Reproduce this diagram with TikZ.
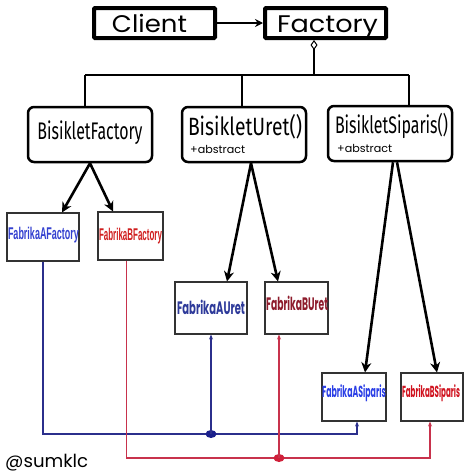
\documentclass[tikz,border=0pt]{standalone}
\usepackage{fontspec}
\usepackage{graphicx}
\setmainfont{Poppins}
\newfontfamily\fira{Fira Sans}
\newfontfamily\libsans{Liberation Sans}
\usetikzlibrary{arrows.meta,shapes.geometric}
\definecolor{tA}{HTML}{3340D0}
\definecolor{tB}{HTML}{D01E1E}
\definecolor{uA}{HTML}{2E3A9A}
\definecolor{uB}{HTML}{8E1C2C}
\definecolor{sA}{HTML}{2B3FE6}
\definecolor{sB}{HTML}{D0121E}
\definecolor{lblue}{HTML}{2B2F8C}
\definecolor{lred}{HTML}{C8324C}
\definecolor{dotblue}{HTML}{1A1F8C}
\definecolor{dotred}{HTML}{D0203A}
\newcommand\fw[2]{\resizebox{#1}{\height}{#2}}
\begin{document}
\begin{tikzpicture}[x=1pt,y=-1pt,
  hbox/.style={draw, line width=4pt, rounded corners=1pt, inner sep=0pt},
  rbox/.style={draw, line width=2.5pt, rounded corners=6pt, inner sep=0pt},
  fbox/.style={draw=black!80, line width=1.1pt, inner sep=0pt},
  txt/.style={anchor=base, inner sep=0pt},
  tline/.style={line width=1.5pt},
  harrow/.style={line width=2.6pt, -{Stealth[length=10pt,width=10pt]}},
  bline/.style={draw=lblue, line width=1.2pt},
  rline/.style={draw=lred, line width=1.2pt},
  ctip/.style={-{Stealth[length=5pt,width=4pt]}},
  dot/.style={ellipse, inner sep=0pt, minimum width=11pt, minimum height=8pt}
]
\useasboundingbox[fill=white] (0,0) rectangle (474,474);

% top boxes
\node[hbox, minimum width=121pt, minimum height=30pt] (client) at (154.5,23) {};
\node[txt] (clientT) at (149.5,32) {\fontsize{24}{24}\selectfont\fw{75pt}{Client}};
\node[hbox, minimum width=121pt, minimum height=30pt] (factory) at (325.5,23) {};
\node[txt] (factoryT) at (327.5,32) {\fontsize{24}{24}\selectfont\fw{101pt}{Factory}};
\draw[line width=2pt, -{Stealth[length=8pt,width=8pt]}] (client.east) -- (factory.west);

% second level boxes
\node[rbox, minimum width=124pt, minimum height=55pt] (bf) at (90,134.5) {};
\node[txt] (bfT) at (90,139) {\fira\fontsize{24}{24}\selectfont\fw{105pt}{BisikletFactory}};
\node[rbox, minimum width=124pt, minimum height=55pt] (bu) at (244,134.5) {};
\node[txt] (buT) at (245,135) {\fira\fontsize{25}{25}\selectfont\fw{114pt}{BisikletUret()}};
\node[txt, anchor=base west] (buA) at (190,153) {\fontsize{11}{11}\selectfont\fw{55pt}{+abstract}};
\node[rbox, minimum width=124pt, minimum height=55pt] (bs) at (390,133.5) {};
\node[txt] (bsT) at (391.5,133) {\fira\fontsize{24}{24}\selectfont\fw{113pt}{BisikletSiparis()}};
\node[txt, anchor=base west] (bsA) at (337,152) {\fontsize{11}{11}\selectfont\fw{55pt}{+abstract}};

% tree connectors
\coordinate (dj) at (314,75);
\coordinate (t1) at (85,75);
\coordinate (t2) at (242,75);
\coordinate (t3) at (409,75);
\draw[tline, {Diamond[open,length=10pt,width=7pt,line width=1pt]}-] (factory.south -| dj) -- (dj);
\draw[tline] (t1) -- (t3);
\draw[tline] (t1) -- (t1 |- bf.north);
\draw[tline] (t2) -- (t2 |- bu.north);
\draw[tline] (t3) -- (t3 |- bs.north);

% fabrika boxes
\node[fbox, minimum width=72pt, minimum height=48pt] (faf) at (43,237) {};
\node[txt, text=tA] (fafT) at (43.5,239) {\libsans\bfseries\fontsize{17}{17}\selectfont\fw{71pt}{FabrikaAFactory}};
\node[fbox, minimum width=65pt, minimum height=48pt] (fbf) at (130.5,236) {};
\node[txt, text=tB] (fbfT) at (130.5,240) {\libsans\bfseries\fontsize{17}{17}\selectfont\fw{63pt}{FabrikaBFactory}};
\node[fbox, minimum width=72pt, minimum height=52pt] (fau) at (211,308) {};
\node[txt, text=uA] (fauT) at (211,314) {\bfseries\fontsize{18}{18}\selectfont\fw{68pt}{FabrikaAUret}};
\node[fbox, minimum width=63pt, minimum height=52pt] (fbu) at (296.5,308) {};
\node[txt, text=uB] (fbuT) at (297,310) {\bfseries\fontsize{18}{18}\selectfont\fw{62pt}{FabrikaBUret}};
\node[fbox, minimum width=64pt, minimum height=48pt] (fas) at (354,397) {};
\node[txt, text=sA] (fasT) at (354,397) {\bfseries\fontsize{16}{16}\selectfont\fw{64pt}{FabrikaASiparis}};
\node[fbox, minimum width=62pt, minimum height=48pt] (fbs) at (432,397) {};
\node[txt, text=sB] (fbsT) at (431,397) {\bfseries\fontsize{16}{16}\selectfont\fw{58pt}{FabrikaBSiparis}};

% hierarchy arrows
\draw[harrow] (bf.south) -- ([xshift=19pt]faf.north);
\draw[harrow] (bf.south) -- ([xshift=-17.5pt]fbf.north);
\draw[harrow] ([xshift=7pt]bu.south) -- ([xshift=16pt]fau.north);
\draw[harrow] ([xshift=7pt]bu.south) -- ([xshift=-18.5pt]fbu.north);
\draw[harrow] ([xshift=3pt]bs.south) -- ([xshift=11pt]fas.north);
\draw[harrow] ([xshift=7pt]bs.south) -- ([xshift=5pt]fbs.north);

% blue connections
\coordinate (bc) at (357,434);
\draw[bline, ctip] (faf.south) |- (bc) -- (bc |- fas.south);
\node[dot, fill=dotblue] (bdot) at (211,434) {};
\draw[bline, ctip] (bdot.center) -- (fau.south);

% red connections
\coordinate (rc) at (430,458);
\draw[rline, ctip] ([xshift=-4pt]fbf.south) |- (rc) -- (rc |- fbs.south);
\node[dot, fill=dotred] (rdot) at (279,458) {};
\draw[rline, ctip] (rdot.center) -- ([xshift=-17.5pt]fbu.south);

% signature
\node[txt, anchor=base west] (sig) at (5,467) {\fontsize{18}{18}\selectfont\fw{83pt}{@sumklc}};
\end{tikzpicture}
\end{document}
